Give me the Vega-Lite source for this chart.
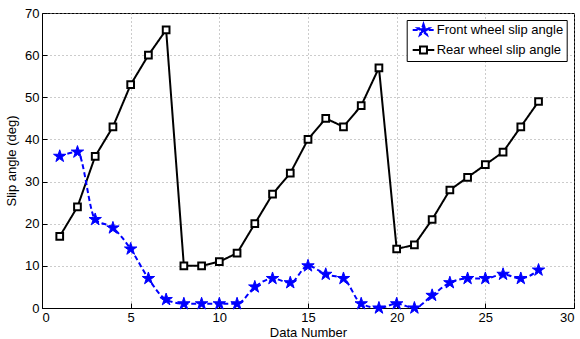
{
  "$schema": "https://vega.github.io/schema/vega-lite/v6.json",
  "width": 532,
  "height": 295,
  "autosize": "none",
  "padding": {"left": 42, "top": 13, "right": 6, "bottom": 31},
  "background": "white",
  "config": {
    "font": "Liberation Sans",
    "view": {"stroke": "black", "strokeWidth": 1},
    "axis": {
      "domainColor": "black",
      "tickColor": "black",
      "labelColor": "black",
      "titleColor": "black",
      "labelFontSize": 13,
      "titleFontSize": 13,
      "titleFontWeight": "normal",
      "gridColor": "#999999",
      "gridDash": [1, 3],
      "gridWidth": 1,
      "tickSize": -5,
      "labelPadding": 8
    },
    "legend": {
      "orient": "none",
      "legendX": 364.7,
      "legendY": 7,
      "fillColor": "white",
      "strokeColor": "black",
      "padding": 3,
      "labelFontSize": 13,
      "labelColor": "black",
      "labelOffset": 13,
      "rowPadding": 3,
      "symbolSize": 144,
      "symbolStrokeWidth": 2,
      "symbolOpacity": 1
    }
  },
  "data": {
    "values": [
      {"n": 1, "series": "Front wheel slip angle", "v": 36},
      {"n": 2, "series": "Front wheel slip angle", "v": 37},
      {"n": 3, "series": "Front wheel slip angle", "v": 21},
      {"n": 4, "series": "Front wheel slip angle", "v": 19},
      {"n": 5, "series": "Front wheel slip angle", "v": 14},
      {"n": 6, "series": "Front wheel slip angle", "v": 7},
      {"n": 7, "series": "Front wheel slip angle", "v": 2},
      {"n": 8, "series": "Front wheel slip angle", "v": 1},
      {"n": 9, "series": "Front wheel slip angle", "v": 1},
      {"n": 10, "series": "Front wheel slip angle", "v": 1},
      {"n": 11, "series": "Front wheel slip angle", "v": 1},
      {"n": 12, "series": "Front wheel slip angle", "v": 5},
      {"n": 13, "series": "Front wheel slip angle", "v": 7},
      {"n": 14, "series": "Front wheel slip angle", "v": 6},
      {"n": 15, "series": "Front wheel slip angle", "v": 10},
      {"n": 16, "series": "Front wheel slip angle", "v": 8},
      {"n": 17, "series": "Front wheel slip angle", "v": 7},
      {"n": 18, "series": "Front wheel slip angle", "v": 1},
      {"n": 19, "series": "Front wheel slip angle", "v": 0},
      {"n": 20, "series": "Front wheel slip angle", "v": 1},
      {"n": 21, "series": "Front wheel slip angle", "v": 0},
      {"n": 22, "series": "Front wheel slip angle", "v": 3},
      {"n": 23, "series": "Front wheel slip angle", "v": 6},
      {"n": 24, "series": "Front wheel slip angle", "v": 7},
      {"n": 25, "series": "Front wheel slip angle", "v": 7},
      {"n": 26, "series": "Front wheel slip angle", "v": 8},
      {"n": 27, "series": "Front wheel slip angle", "v": 7},
      {"n": 28, "series": "Front wheel slip angle", "v": 9},
      {"n": 1, "series": "Rear wheel slip angle", "v": 17},
      {"n": 2, "series": "Rear wheel slip angle", "v": 24},
      {"n": 3, "series": "Rear wheel slip angle", "v": 36},
      {"n": 4, "series": "Rear wheel slip angle", "v": 43},
      {"n": 5, "series": "Rear wheel slip angle", "v": 53},
      {"n": 6, "series": "Rear wheel slip angle", "v": 60},
      {"n": 7, "series": "Rear wheel slip angle", "v": 66},
      {"n": 8, "series": "Rear wheel slip angle", "v": 10},
      {"n": 9, "series": "Rear wheel slip angle", "v": 10},
      {"n": 10, "series": "Rear wheel slip angle", "v": 11},
      {"n": 11, "series": "Rear wheel slip angle", "v": 13},
      {"n": 12, "series": "Rear wheel slip angle", "v": 20},
      {"n": 13, "series": "Rear wheel slip angle", "v": 27},
      {"n": 14, "series": "Rear wheel slip angle", "v": 32},
      {"n": 15, "series": "Rear wheel slip angle", "v": 40},
      {"n": 16, "series": "Rear wheel slip angle", "v": 45},
      {"n": 17, "series": "Rear wheel slip angle", "v": 43},
      {"n": 18, "series": "Rear wheel slip angle", "v": 48},
      {"n": 19, "series": "Rear wheel slip angle", "v": 57},
      {"n": 20, "series": "Rear wheel slip angle", "v": 14},
      {"n": 21, "series": "Rear wheel slip angle", "v": 15},
      {"n": 22, "series": "Rear wheel slip angle", "v": 21},
      {"n": 23, "series": "Rear wheel slip angle", "v": 28},
      {"n": 24, "series": "Rear wheel slip angle", "v": 31},
      {"n": 25, "series": "Rear wheel slip angle", "v": 34},
      {"n": 26, "series": "Rear wheel slip angle", "v": 37},
      {"n": 27, "series": "Rear wheel slip angle", "v": 43},
      {"n": 28, "series": "Rear wheel slip angle", "v": 49}
    ]
  },
  "encoding": {
    "x": {
      "field": "n", "type": "quantitative",
      "scale": {"domain": [0, 30], "nice": false},
      "axis": {"title": "Data Number", "values": [0, 5, 10, 15, 20, 25, 30], "titlePadding": 2}
    },
    "y": {
      "field": "v", "type": "quantitative",
      "scale": {"domain": [0, 70], "nice": false},
      "axis": {"title": "Slip angle (deg)", "values": [0, 10, 20, 30, 40, 50, 60, 70], "titlePadding": 6}
    }
  },
  "layer": [
    {
      "transform": [{"filter": "datum.series === 'Rear wheel slip angle'"}],
      "mark": {"type": "line", "strokeWidth": 2},
      "encoding": {
        "stroke": {
          "field": "series", "type": "nominal", "title": null,
          "scale": {"domain": ["Front wheel slip angle", "Rear wheel slip angle"], "range": ["#0000ff", "#000000"]},
          "legend": {
            "symbolType": "M-1,0H1",
            "encode": {
              "symbols": {
                "update": {
                  "shape": {"signal": "datum.value === 'Front wheel slip angle' ? 'M-0.67,0H2.93M1.13,-1L1.3545,-0.309L2.081,-0.309L1.493,0.118L1.718,0.809L1.13,0.382L0.542,0.809L0.767,0.118L0.179,-0.309L0.9055,-0.309Z' : 'M-0.67,0H0.55M1.71,0H2.93M0.55,-0.58H1.71V0.58H0.55Z'"},
                  "fill": {"signal": "datum.value === 'Front wheel slip angle' ? '#0000ff' : '#ffffff'"},
                  "strokeDash": {"signal": "datum.value === 'Front wheel slip angle' ? [4, 2] : [1, 0]"}
                }
              }
            }
          }
        },
        "strokeDash": {
          "field": "series", "type": "nominal", "legend": null,
          "scale": {"domain": ["Front wheel slip angle", "Rear wheel slip angle"], "range": [[5, 3], [1, 0]]}
        }
      }
    },
    {
      "transform": [{"filter": "datum.series === 'Front wheel slip angle'"}],
      "mark": {"type": "line", "strokeWidth": 2, "interpolate": "monotone"},
      "encoding": {
        "stroke": {"field": "series", "type": "nominal", "title": null},
        "strokeDash": {"field": "series", "type": "nominal", "legend": null}
      }
    },
    {
      "transform": [{"filter": "datum.series === 'Front wheel slip angle'"}],
      "mark": {"type": "point", "filled": true, "fill": "#0000ff", "stroke": "#0000ff", "strokeWidth": 1, "opacity": 1, "size": 170,
               "shape": "M0,-1L0.2245,-0.309L0.951,-0.309L0.363,0.118L0.588,0.809L0,0.382L-0.588,0.809L-0.363,0.118L-0.951,-0.309L-0.2245,-0.309Z"},
      "encoding": {}
    },
    {
      "transform": [{"filter": "datum.series === 'Rear wheel slip angle'"}],
      "mark": {"type": "point", "shape": "square", "fill": "#ffffff", "stroke": "#000000", "strokeWidth": 2, "opacity": 1, "size": 45},
      "encoding": {}
    }
  ]
}
